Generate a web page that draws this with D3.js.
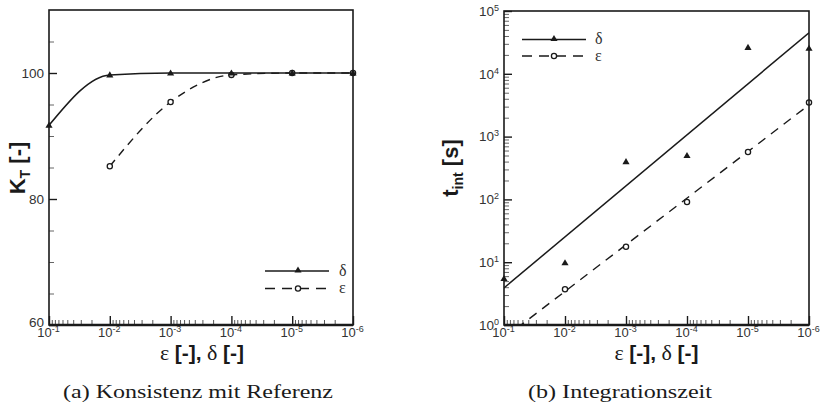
<!DOCTYPE html>
<html><head><meta charset="utf-8">
<script src="https://cdn.jsdelivr.net/npm/d3@7"></script>
<style>body{margin:0;background:#fff}svg{display:block}</style>
</head><body>
<svg id="c" width="821" height="412"></svg>
<script>
// ---------- data ----------
const tolValues = [1e-1, 1e-2, 1e-3, 1e-4, 1e-5, 1e-6];      // ε or δ
const ktDelta   = [91.7, 99.7, 100, 100, 100, 100];          // K_T vs δ
const ktEpsX    = [1e-2, 1e-3, 1e-4, 1e-5, 1e-6];
const ktEps     = [85.2, 95.4, 99.7, 100, 100];              // K_T vs ε
const tDelta    = [5.5, 9.8, 400, 500, 26300, 25500];        // t_int vs δ (markers)
const tEpsX     = [1e-2, 1e-3, 1e-4, 1e-5, 1e-6];
const tEps      = [3.7, 17.6, 91, 570, 3500];                // t_int vs ε (markers)
const fitDeltaX = [1e-1, 1e-6], fitDeltaY = [3.9, 45000];    // fitted line δ
const fitEpsX   = [1e-1, 1e-6], fitEpsY   = [0.62, 3200];    // fitted line ε
const xTickExp  = [-1, -2, -3, -4, -5, -6];
const ktTicks   = [60, 80, 100];
const tTickExp  = [0, 1, 2, 3, 4, 5];
const captions  = ["(a) Konsistenz mit Referenz", "(b) Integrationszeit"];

// ---------- helpers ----------
const svg = d3.select("#c");
const sans = "'Liberation Sans', Arial, sans-serif";
const serif = "'Liberation Serif', 'Times New Roman', serif";
const ink = "#1a1a1a";

function minorLog(lo, hi) {
  const out = [];
  for (let e = lo; e < hi; e++) for (let m = 2; m <= 9; m++) out.push(m * Math.pow(10, e));
  return out;
}
function supLabel(sel, base, exp) {
  sel.text(null);
  sel.append("tspan").text(base);
  sel.append("tspan").attr("font-size", 9).attr("dy", -5).text(exp);
}
function triangle(g, x, y) {
  g.append("path").attr("d", d3.symbol(d3.symbolTriangle, 22)()).attr("transform", `translate(${x},${y + 0.5})`).attr("fill", ink);
}
function circle(g, x, y) {
  g.append("circle").attr("cx", x).attr("cy", y).attr("r", 2.6).attr("fill", "#fff").attr("stroke", ink).attr("stroke-width", 1.3);
}
function frame(g, x0, x1, y0, y1) {
  g.append("rect").attr("x", x0).attr("y", y0).attr("width", x1 - x0).attr("height", y1 - y0)
    .attr("fill", "none").attr("stroke", ink).attr("stroke-width", 1.6);
  g.append("line").attr("x1", x0).attr("x2", x1).attr("y1", y1).attr("y2", y1).attr("stroke", ink).attr("stroke-width", 2.4);
}
function xAxes(g, x, y1) {
  const major = d3.axisBottom(x).tickValues(xTickExp.map(e => Math.pow(10, e))).tickSize(-9).tickPadding(3);
  const ga = g.append("g").attr("transform", `translate(0,${y1})`).call(major);
  ga.select(".domain").remove();
  ga.selectAll(".tick line").attr("stroke", ink).attr("stroke-width", 1.4);
  ga.selectAll(".tick text").attr("font-family", sans).attr("font-size", 13).attr("fill", "#333")
    .attr("dy", "0.68em").attr("dx", -1)
    .each(function (d, i) { supLabel(d3.select(this), "10", String(xTickExp[i])); });
  const minor = d3.axisBottom(x).tickValues(minorLog(-6, -1)).tickSize(-5).tickFormat("");
  const gm = g.append("g").attr("transform", `translate(0,${y1})`).call(minor);
  gm.select(".domain").remove();
  gm.selectAll(".tick line").attr("stroke", "#444").attr("stroke-width", 0.9);
}
function xTitle(g, cx) {
  const t = g.append("text").attr("x", cx).attr("y", 360).attr("text-anchor", "middle").attr("fill", ink).attr("font-size", 21);
  t.append("tspan").attr("font-family", serif).attr("font-size", 22).text("ε ");
  t.append("tspan").attr("font-family", sans).attr("font-weight", "bold").text("[-],");
  t.append("tspan").attr("font-family", serif).attr("font-size", 22).text(" δ ");
  t.append("tspan").attr("font-family", sans).attr("font-weight", "bold").text("[-]");
}
function caption(g, cx, txt, w) {
  g.append("text").attr("x", cx).attr("y", 398).attr("text-anchor", "middle").attr("font-family", serif)
    .attr("font-size", 19.5).attr("fill", ink).attr("textLength", w).attr("lengthAdjust", "spacingAndGlyphs").text(txt);
}

// ================= Panel (a) =================
{
  const x0 = 49, x1 = 353, y0 = 10, y1 = 325;
  const g = svg.append("g");
  const x = d3.scaleLog().domain([1e-1, 1e-6]).range([x0, x1]);
  const y = d3.scaleLinear().domain([60, 110]).range([y1, y0]);

  // y ticks
  const ya = d3.axisLeft(y).tickValues(ktTicks).tickSize(-8).tickPadding(5);
  const gy = g.append("g").attr("transform", `translate(${x0},0)`).call(ya);
  gy.select(".domain").remove();
  gy.selectAll(".tick line").attr("stroke", ink).attr("stroke-width", 1.4);
  gy.selectAll(".tick text").attr("font-family", sans).attr("font-size", 13.5).attr("fill", "#333");
  gy.selectAll(".tick").filter(d => d === 60).select("text").attr("dy", "0.1em");
  const ym = d3.axisLeft(y).tickValues(d3.range(65, 110, 5).filter(v => v % 20 !== 0)).tickSize(-5).tickFormat("");
  const gym = g.append("g").attr("transform", `translate(${x0},0)`).call(ym);
  gym.select(".domain").remove();
  gym.selectAll(".tick line").attr("stroke", "#555").attr("stroke-width", 0.9);

  xAxes(g, x, y1);

  const line = d3.line().x(d => x(d[0])).y(d => y(d[1])).curve(d3.curveMonotoneX);
  const dDelta = tolValues.map((v, i) => [v, ktDelta[i]]);
  const dEps = ktEpsX.map((v, i) => [v, ktEps[i]]);
  g.append("path").attr("d", line(dEps)).attr("fill", "none").attr("stroke", ink).attr("stroke-width", 1.4).attr("stroke-dasharray", "8,6");
  g.append("path").attr("d", line(dDelta)).attr("fill", "none").attr("stroke", ink).attr("stroke-width", 1.5);
  dEps.forEach(d => circle(g, x(d[0]), y(d[1])));
  dDelta.forEach(d => triangle(g, x(d[0]), y(d[1])));

  frame(g, x0, x1, y0, y1);

  // legend
  const lg = g.append("g");
  lg.append("line").attr("x1", 265).attr("x2", 329).attr("y1", 271).attr("y2", 271).attr("stroke", ink).attr("stroke-width", 1.5);
  triangle(lg, 298, 270);
  lg.append("line").attr("x1", 265).attr("x2", 329).attr("y1", 288.5).attr("y2", 288.5).attr("stroke", ink).attr("stroke-width", 1.3).attr("stroke-dasharray", "10,7");
  circle(lg, 298, 288.5);
  lg.append("text").attr("x", 339).attr("y", 276).attr("font-family", serif).attr("font-size", 16).attr("fill", "#333").text("δ");
  lg.append("text").attr("x", 339).attr("y", 293).attr("font-family", serif).attr("font-size", 16).attr("fill", "#333").text("ε");

  // titles
  const yl = g.append("text").attr("transform", "translate(25,168) rotate(-90)").attr("text-anchor", "middle")
    .attr("font-family", sans).attr("font-weight", "bold").attr("font-size", 22).attr("fill", ink);
  yl.append("tspan").text("K");
  yl.append("tspan").attr("font-size", 14).attr("dy", 5).text("T");
  yl.append("tspan").attr("dy", -5).text(" [-]");
  xTitle(g, (x0 + x1) / 2 + 1);
  caption(g, 198, captions[0], 270);
}

// ================= Panel (b) =================
{
  const x0 = 504, x1 = 809, y0 = 11, y1 = 325;
  const g = svg.append("g");
  const x = d3.scaleLog().domain([1e-1, 1e-6]).range([x0, x1]);
  const y = d3.scaleLog().domain([1, 1e5]).range([y1, y0]);

  const ya = d3.axisLeft(y).tickValues(tTickExp.map(e => Math.pow(10, e))).tickSize(-8).tickPadding(5);
  const gy = g.append("g").attr("transform", `translate(${x0},0)`).call(ya);
  gy.select(".domain").remove();
  gy.selectAll(".tick line").attr("stroke", ink).attr("stroke-width", 1.4);
  gy.selectAll(".tick text").attr("font-family", sans).attr("font-size", 13.5).attr("fill", "#333")
    .each(function (d, i) { supLabel(d3.select(this), "10", String(tTickExp[i])); });
  const ym = d3.axisLeft(y).tickValues(minorLog(0, 5)).tickSize(-5).tickFormat("");
  const gym = g.append("g").attr("transform", `translate(${x0},0)`).call(ym);
  gym.select(".domain").remove();
  gym.selectAll(".tick line").attr("stroke", "#555").attr("stroke-width", 0.9);

  xAxes(g, x, y1);

  svg.append("clipPath").attr("id", "clipB").append("rect").attr("x", x0).attr("y", y0).attr("width", x1 - x0).attr("height", y1 - y0);
  const line = d3.line().x(d => x(d[0])).y(d => y(d[1]));
  const pg = g.append("g").attr("clip-path", "url(#clipB)");
  pg.append("path").attr("d", line(fitDeltaX.map((v, i) => [v, fitDeltaY[i]]))).attr("fill", "none").attr("stroke", ink).attr("stroke-width", 1.5);
  pg.append("path").attr("d", line(fitEpsX.map((v, i) => [v, fitEpsY[i]]))).attr("fill", "none").attr("stroke", ink).attr("stroke-width", 1.4).attr("stroke-dasharray", "9,7");
  tEpsX.forEach((v, i) => circle(g, x(v), y(tEps[i])));
  tolValues.forEach((v, i) => triangle(g, x(v), y(tDelta[i])));

  frame(g, x0, x1, y0, y1);

  const lg = g.append("g");
  lg.append("line").attr("x1", 522).attr("x2", 586).attr("y1", 39.5).attr("y2", 39.5).attr("stroke", ink).attr("stroke-width", 1.5);
  triangle(lg, 554, 38.5);
  lg.append("line").attr("x1", 522).attr("x2", 586).attr("y1", 56).attr("y2", 56).attr("stroke", ink).attr("stroke-width", 1.3).attr("stroke-dasharray", "10,7");
  circle(lg, 554, 56);
  lg.append("text").attr("x", 595).attr("y", 44).attr("font-family", serif).attr("font-size", 16).attr("fill", "#333").text("δ");
  lg.append("text").attr("x", 595).attr("y", 61).attr("font-family", serif).attr("font-size", 16).attr("fill", "#333").text("ε");

  const yl = g.append("text").attr("transform", "translate(458,168) rotate(-90)").attr("text-anchor", "middle")
    .attr("font-family", sans).attr("font-weight", "bold").attr("font-size", 22).attr("fill", ink);
  yl.append("tspan").text("t");
  yl.append("tspan").attr("font-size", 14).attr("dy", 5).text("int");
  yl.append("tspan").attr("dy", -5).text(" [s]");
  xTitle(g, (x0 + x1) / 2);
  caption(g, 620, captions[1], 184);
}
</script>
</body></html>
